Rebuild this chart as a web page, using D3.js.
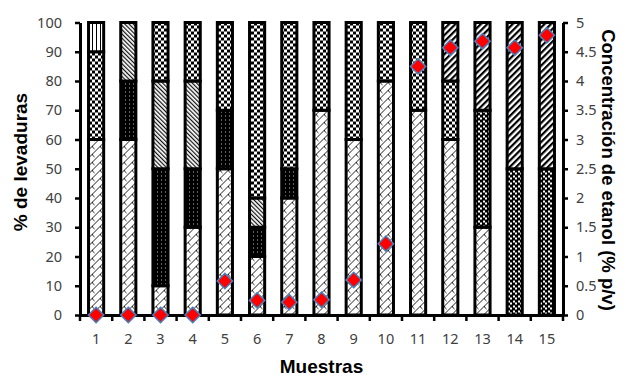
<!DOCTYPE html>
<html>
<head>
<meta charset="utf-8">
<script src="https://cdn.jsdelivr.net/npm/d3@7"></script>
<style>
  body { margin: 0; background: #fff; }
  svg text { font-family: "Noto Sans", "Open Sans", sans-serif; }
</style>
</head>
<body>
<svg id="chart" width="625" height="376"></svg>
<script>
var muestras       = ["1","2","3","4","5","6","7","8","9","10","11","12","13","14","15"],
    zigzag         = [60, 60, 10, 30, 50, 20, 40, 70, 60, 80, 70, 60, 30,  0,  0],
    puntos         = [ 0, 20, 40, 20, 20, 10, 10,  0,  0,  0,  0,  0,  0,  0,  0],
    diagonalFina   = [ 0, 20, 30, 30,  0, 10,  0,  0,  0,  0,  0,  0,  0,  0,  0],
    cuadros        = [30,  0, 20, 20, 30, 60, 50, 30, 40, 20, 30, 20,  0,  0,  0],
    cuadrosFinos   = [ 0,  0,  0,  0,  0,  0,  0,  0,  0,  0,  0,  0, 40, 50, 50],
    verticales     = [10,  0,  0,  0,  0,  0,  0,  0,  0,  0,  0,  0,  0,  0,  0],
    diagonalGruesa = [ 0,  0,  0,  0,  0,  0,  0,  0,  0,  0,  0, 20, 30, 50, 50],
    etanol         = [0, 0, 0, 0, 0.58, 0.25, 0.22, 0.26, 0.6, 1.22, 4.25, 4.57, 4.68, 4.57, 4.78]

var yTicks  = [0, 10, 20, 30, 40, 50, 60, 70, 80, 90, 100],
    y2Ticks = [0, 0.5, 1, 1.5, 2, 2.5, 3, 3.5, 4, 4.5, 5]

var keys = ["zigzag", "puntos", "diagonalFina", "cuadros", "cuadrosFinos", "verticales", "diagonalGruesa"]
var series = { zigzag: zigzag, puntos: puntos, diagonalFina: diagonalFina, cuadros: cuadros,
               cuadrosFinos: cuadrosFinos, verticales: verticales, diagonalGruesa: diagonalGruesa }

var table = muestras.map((m, i) => {
  var row = { muestra: m, etanol: etanol[i] }
  keys.forEach(k => row[k] = series[k][i])
  return row
})

var margin = {top: 22.5, right: 62, bottom: 61, left: 80},
    width  = 625 - margin.left - margin.right,
    height = 376 - margin.top - margin.bottom

var svg = d3.select("#chart")
var defs = svg.append("defs")

// fill patterns, one per series
function pattern(id, w, h, draw, transform) { //{{{
  var p = defs.append("pattern")
    .attr("id", id)
    .attr("patternUnits", "userSpaceOnUse")
    .attr("width", w).attr("height", h)
  if(transform) p.attr("patternTransform", transform)
  draw(p)
} //}}}

pattern("p-zigzag", 8, 8, p => {
  p.append("rect").attr("width", 8).attr("height", 8).attr("fill", "#fff")
  p.append("path").attr("d", "M0,8L8,0M4,4L6.5,6.5").attr("stroke", "#222").attr("stroke-width", 1).attr("fill", "none")
})
pattern("p-puntos", 4, 4, p => {
  p.append("rect").attr("width", 4).attr("height", 4).attr("fill", "#000")
  p.append("rect").attr("x", 1).attr("y", 1).attr("width", 1).attr("height", 1).attr("fill", "#bbb")
})
pattern("p-diagonalFina", 3, 3, p => {
  p.append("rect").attr("width", 3).attr("height", 3).attr("fill", "#fff")
  p.append("rect").attr("width", 1.2).attr("height", 3).attr("fill", "#111")
}, "rotate(-45)")
pattern("p-cuadros", 6, 6, p => {
  p.append("rect").attr("width", 6).attr("height", 6).attr("fill", "#fff")
  p.append("rect").attr("width", 3).attr("height", 3).attr("fill", "#000")
  p.append("rect").attr("x", 3).attr("y", 3).attr("width", 3).attr("height", 3).attr("fill", "#000")
})
pattern("p-cuadrosFinos", 5, 5, p => {
  p.append("rect").attr("width", 5).attr("height", 5).attr("fill", "#000")
  p.append("rect").attr("width", 2).attr("height", 2).attr("fill", "#fff")
  p.append("rect").attr("x", 3).attr("y", 3).attr("width", 2).attr("height", 2).attr("fill", "#fff")
})
pattern("p-verticales", 4, 4, p => {
  p.append("rect").attr("width", 4).attr("height", 4).attr("fill", "#fff")
  p.append("rect").attr("width", 1).attr("height", 4).attr("fill", "#000")
})
pattern("p-diagonalGruesa", 4.5, 4.5, p => {
  p.append("rect").attr("width", 4.5).attr("height", 4.5).attr("fill", "#fff")
  p.append("rect").attr("width", 2.2).attr("height", 4.5).attr("fill", "#000")
}, "rotate(45)")

var g = svg.append("g")
  .attr("transform", "translate(" + margin.left + "," + margin.top + ")")

var x = d3.scaleBand()
  .domain(muestras)
  .range([0, width])
  .paddingInner(0.53)
  .paddingOuter(0.265)

var y = d3.scaleLinear()
  .domain([0, 100])
  .range([height, 0])

var y2 = d3.scaleLinear()
  .domain([0, 5])
  .range([height, 0])

var stacked = d3.stack().keys(keys)(table)

g.append("g").selectAll("g")
  .data(stacked)
  .join("g")
    .attr("fill", d => "url(#p-" + d.key + ")")
  .selectAll("rect")
  .data(d => d.filter(s => s[1] - s[0] > 0))
  .join("rect")
    .attr("x", d => x(d.data.muestra))
    .attr("y", d => y(d[1]))
    .attr("width", x.bandwidth())
    .attr("height", d => y(d[0]) - y(d[1]))
    .attr("stroke", "#000")
    .attr("stroke-width", 3)

// axes
var yAxis = g.append("g")
  .call(d3.axisLeft(y).tickValues(yTicks).tickSize(5).tickSizeOuter(0).tickPadding(13))

var y2Axis = g.append("g")
  .attr("transform", "translate(" + width + ",0)")
  .call(d3.axisRight(y2).tickValues(y2Ticks).tickFormat(d => String(d)).tickSize(5).tickSizeOuter(0).tickPadding(8))

var xAxis = g.append("g")
  .attr("transform", "translate(0," + height + ")")
  .call(d3.axisBottom(x).tickSize(0).tickSizeOuter(0).tickPadding(19))

var bounds = muestras.map(m => x(m) - (x.step() - x.bandwidth()) / 2).concat([width])
xAxis.selectAll("line.bound")
  .data(bounds)
  .join("line")
    .classed("bound", true)
    .attr("x1", d => d).attr("x2", d => d)
    .attr("y1", 0).attr("y2", 6)
    .attr("stroke", "#000")
    .attr("stroke-width", 2.5)

;[yAxis, y2Axis, xAxis].forEach(a => {
  a.select(".domain").attr("stroke", "#000").attr("stroke-width", 3)
  a.selectAll(".tick line").attr("stroke", "#000").attr("stroke-width", 2.5)
  a.selectAll(".tick text").attr("font-size", 14.5).attr("fill", "#404040")
    .style("font-family", "'Noto Sans', sans-serif")
})

// ethanol markers
g.append("g").selectAll("path")
  .data(table)
  .join("path")
    .attr("d", d3.symbol(d3.symbolSquare, 118))
    .attr("transform", d => "translate(" + (x(d.muestra) + x.bandwidth() / 2) + "," + y2(d.etanol) + ") rotate(45)")
    .attr("fill", "#ff0000")
    .attr("stroke", "#4a7ebb")
    .attr("stroke-width", 1.5)

// titles
var titleFont = "'Liberation Sans', Arial, sans-serif"
svg.append("text")
  .attr("transform", "translate(27,162) rotate(-90)")
  .attr("text-anchor", "middle")
  .style("font-family", titleFont)
  .attr("font-weight", "bold").attr("font-size", 19)
  .text("% de levaduras")

svg.append("text")
  .attr("transform", "translate(602,170) rotate(90)")
  .attr("text-anchor", "middle")
  .style("font-family", titleFont)
  .attr("font-weight", "bold").attr("font-size", 18.5)
  .text("Concentración de etanol (% p/v)")

svg.append("text")
  .attr("x", margin.left + width / 2)
  .attr("y", 373)
  .attr("text-anchor", "middle")
  .style("font-family", titleFont)
  .attr("font-weight", "bold").attr("font-size", 19)
  .text("Muestras")
</script>
</body>
</html>
